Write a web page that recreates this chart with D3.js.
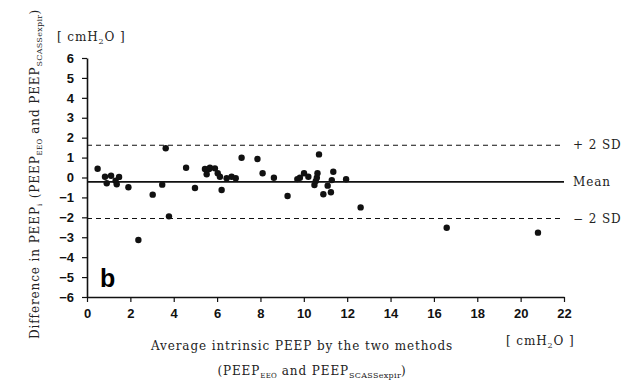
<!DOCTYPE html>
<html>
<head>
<meta charset="utf-8">
<script src="https://cdn.jsdelivr.net/npm/d3@7"></script>
<style>
  body { margin: 0; background: #fff; }
  svg { display: block; }
  .tick text { font-family: "Liberation Sans", Arial, sans-serif; font-weight: bold; font-size: 13px; fill: #111; }
  .serif { font-family: "DejaVu Serif", "Liberation Serif", serif; fill: #222; font-size: 12px; letter-spacing: 0.9px; }
</style>
</head>
<body>
<svg id="chart" width="634" height="382"></svg>
<script>
// Bland-Altman points: average PEEPi (x) vs difference (y), cmH2O
const avgPeep = [0.49, 0.83, 0.91, 1.11, 1.32, 1.37, 1.48, 1.91, 2.37, 3.03, 3.47, 3.63, 3.78,
  4.57, 4.98, 5.44, 5.52, 5.63, 5.67, 5.90, 6.03, 6.13, 6.21, 6.44, 6.67, 6.86, 7.13, 7.86,
  8.10, 8.62, 9.25, 9.70, 9.82, 10.01, 10.21, 10.49, 10.55, 10.60, 10.63, 10.70, 10.90,
  11.10, 11.25, 11.29, 11.36, 11.95, 12.62, 16.59, 20.80];
const diffPeep = [0.44, 0.04, -0.29, 0.09, -0.16, -0.34, 0.03, -0.49, -3.14, -0.86, -0.36, 1.47, -1.95,
  0.49, -0.53, 0.43, 0.16, 0.43, 0.49, 0.46, 0.21, 0.04, -0.63, -0.04, 0.04, -0.04, 0.99, 0.93,
  0.21, -0.01, -0.93, -0.08, -0.01, 0.21, 0.04, -0.38, -0.18, -0.01, 0.21, 1.16, -0.84,
  -0.41, -0.74, -0.13, 0.29, -0.09, -1.50, -2.52, -2.77];

const refLines = [
  { name: "+ 2 SD", value: 1.62, dashed: true },
  { name: "Mean", value: -0.22, dashed: false },
  { name: "\u2212 2 SD", value: -2.06, dashed: true }
];
const xTicks = d3.range(0, 23, 2);
const yTicks = d3.range(-6, 7, 1);

const svg = d3.select("#chart");
const margin = { left: 87, top: 58, right: 70, bottom: 85 };
const x = d3.scaleLinear().domain([0, 22]).range([margin.left, 564]);
const y = d3.scaleLinear().domain([-6, 6]).range([297, margin.top]);

// axes
const xAxis = svg.append("g")
  .attr("transform", `translate(0,${y(-6)})`)
  .call(d3.axisBottom(x).tickValues(xTicks).tickSize(5).tickPadding(7).tickSizeOuter(0));
const yAxis = svg.append("g")
  .attr("transform", `translate(${x(0)},0)`)
  .call(d3.axisLeft(y).tickValues(yTicks).tickSize(5).tickPadding(8).tickSizeOuter(0)
    .tickFormat(d => d < 0 ? "\u2212" + Math.abs(d) : d));
[xAxis, yAxis].forEach(a => {
  a.select(".domain").attr("stroke", "#111").attr("stroke-width", 1.6);
  a.selectAll(".tick line").attr("stroke", "#111").attr("stroke-width", 1.2);
});

// mean and +-2SD lines
svg.selectAll(".ref")
  .data(refLines)
  .enter()
  .append("line")
  .attr("x1", x(0))
  .attr("x2", x(22))
  .attr("y1", d => y(d.value))
  .attr("y2", d => y(d.value))
  .attr("stroke", "#111")
  .attr("stroke-width", d => d.dashed ? 1.1 : 1.6)
  .attr("stroke-dasharray", d => d.dashed ? "5,4" : null);

svg.selectAll(".refLabel")
  .data(refLines)
  .enter()
  .append("text")
  .attr("class", "serif")
  .attr("x", x(22) + 9)
  .attr("y", d => y(d.value) + 4)
  .text(d => d.name);

// points
svg.selectAll(".pt")
  .data(avgPeep.map((v, i) => [v, diffPeep[i]]))
  .enter()
  .append("circle")
  .attr("cx", d => x(d[0]))
  .attr("cy", d => y(d[1]))
  .attr("r", 3.2)
  .attr("fill", "#111");

// panel letter
svg.append("text")
  .attr("x", 100)
  .attr("y", 287)
  .style("font-family", "Liberation Sans, Arial, sans-serif")
  .style("font-weight", "bold")
  .style("font-size", "25px")
  .text("b");

// units
function units(xPos, yPos) {
  const t = svg.append("text").attr("class", "serif").attr("x", xPos).attr("y", yPos);
  t.append("tspan").text("[ cmH");
  t.append("tspan").attr("dy", 3).style("font-size", "8px").text("2");
  t.append("tspan").attr("dy", -3).text("O ]");
}
units(57, 41);
units(506, 345);

// x title
svg.append("text")
  .attr("class", "serif")
  .attr("x", 302)
  .attr("y", 350)
  .attr("text-anchor", "middle")
  .text("Average intrinsic PEEP by the two methods");

const xt2 = svg.append("text")
  .attr("class", "serif")
  .attr("x", 312)
  .attr("y", 375)
  .attr("text-anchor", "middle");
xt2.append("tspan").text("(PEEP");
xt2.append("tspan").attr("dy", 3).style("font-size", "7px").style("letter-spacing", "0.3px").text("EEO");
xt2.append("tspan").attr("dy", -3).text(" and PEEP");
xt2.append("tspan").attr("dy", 3).style("font-size", "8px").style("letter-spacing", "0.3px").text("SCASSexpir");
xt2.append("tspan").attr("dy", -3).text(")");

// y title
const yt = svg.append("text")
  .attr("class", "serif")
  .attr("transform", "translate(39,174) rotate(-90)")
  .attr("text-anchor", "middle");
yt.append("tspan").text("Difference in PEEP");
yt.append("tspan").attr("dy", 3).style("font-size", "7px").text("i");
yt.append("tspan").attr("dy", -3).text(" (PEEP");
yt.append("tspan").attr("dy", 3).style("font-size", "7px").style("letter-spacing", "0.3px").text("EEO");
yt.append("tspan").attr("dy", -3).text(" and PEEP");
yt.append("tspan").attr("dy", 3).style("font-size", "8px").style("letter-spacing", "0.3px").text("SCASSexpir");
yt.append("tspan").attr("dy", -3).text(")");
</script>
</body>
</html>
